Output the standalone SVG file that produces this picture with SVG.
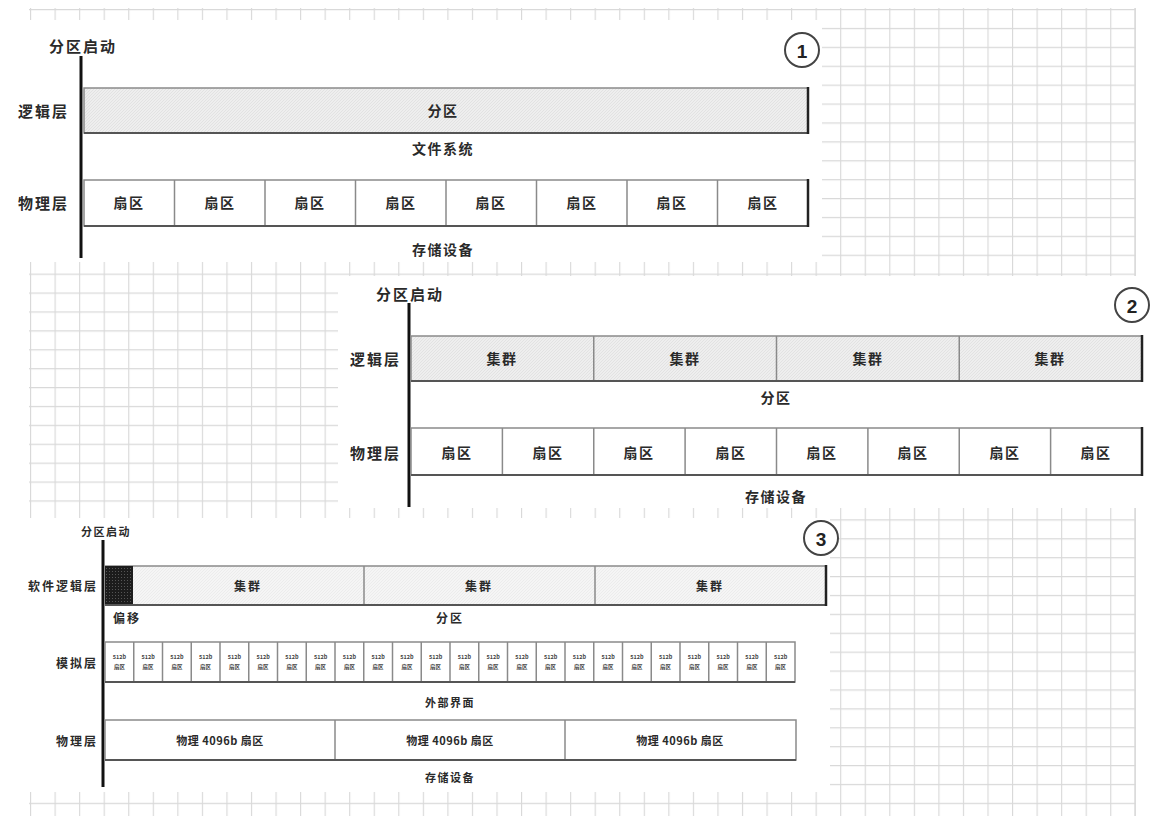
<svg xmlns="http://www.w3.org/2000/svg" width="1154" height="819" viewBox="0 0 1154 819">
<defs>
<pattern id="grid" patternUnits="userSpaceOnUse" x="30" y="9" width="24.55" height="18.9">
<path d="M0 0.5H24.55M0.5 0V18.9" stroke="#d9d9d9" stroke-width="1.3" fill="none"/>
</pattern>
<pattern id="hatch" patternUnits="userSpaceOnUse" width="3" height="3">
<rect width="3" height="3" fill="#eeeeee"/>
<path d="M0 3L3 0" stroke="#e2e2e2" stroke-width="1"/>
</pattern>
<pattern id="hatchLight" patternUnits="userSpaceOnUse" width="3" height="3">
<rect width="3" height="3" fill="#f5f5f5"/>
<path d="M0 3L3 0" stroke="#ececec" stroke-width="1"/>
</pattern>
<pattern id="dark" patternUnits="userSpaceOnUse" width="3" height="3">
<rect width="3" height="3" fill="#1c1c1c"/>
<rect x="1" y="1" width="1" height="1" fill="#555"/>
</pattern>
</defs>
<style>
text{font-family:"Noto Sans CJK SC","Noto Sans",sans-serif;font-weight:700;fill:#2a2a2a;dominant-baseline:central;text-anchor:middle}
.l{font-size:15px;letter-spacing:2px}
.m{font-size:14px;letter-spacing:1.5px}
.s{font-size:12px;letter-spacing:2px}
.xs{font-size:11px;letter-spacing:1.5px}
.ph{font-size:11px;letter-spacing:0.5px}
.t{font-size:5.5px;font-weight:700;fill:#444}
.e{text-anchor:end}
.num{font-family:"Liberation Sans",Arial,sans-serif;font-size:19px;font-weight:700;fill:#222}
.cell{stroke:#8a8a8a;stroke-width:1.5}
.bot{stroke:#555;stroke-width:2}
.edge{stroke:#222;stroke-width:2.5}
.axis{stroke:#111;stroke-width:3}
.ring{fill:#fff;stroke:#444;stroke-width:2}
</style>
<rect width="1154" height="819" fill="#fff"/>
<g id="background">
<rect x="29" y="8" width="1107" height="808" fill="url(#grid)"/>
<line x1="1135" y1="8" x2="1135" y2="816" stroke="#d9d9d9" stroke-width="1.3"/>
<rect x="0" y="20" width="822" height="242" fill="#fff"/>
<rect x="338" y="276" width="816" height="232" fill="#fff"/>
<rect x="0" y="518" width="830" height="274" fill="#fff"/>
</g>
<g id="axes">
<line class="axis" x1="81" y1="56" x2="81" y2="258"/>
<line class="axis" x1="409" y1="303" x2="409" y2="507"/>
<line class="axis" x1="103" y1="540" x2="103" y2="787"/>
</g>
<g id="panel1">
<text class="l" x="83" y="45">分区启动</text>
<text class="l e" x="69" y="110">逻辑层</text>
<text class="l e" x="69" y="202">物理层</text>
<g id="p1-partition">
<rect class="cell" x="84" y="88" width="724" height="45" fill="url(#hatch)"/>
<line class="bot" x1="84" y1="133" x2="808" y2="133"/>
<line class="edge" x1="808" y1="87" x2="808" y2="134"/>
<text class="m" x="443" y="110">分区</text>
</g>
<text class="m" x="443" y="148">文件系统</text>
<g id="p1-sectors">
<rect class="cell" x="84" y="180" width="724" height="46" fill="#fff"/>
<path class="cell" d="M174.5 180V226M265 180V226M355.5 180V226M446 180V226M536.5 180V226M627 180V226M717.5 180V226"/>
<line class="bot" x1="84" y1="226" x2="808" y2="226"/>
<line class="edge" x1="808" y1="179" x2="808" y2="227"/>
<text class="m" x="129" y="202">扇区</text>
<text class="m" x="220" y="202">扇区</text>
<text class="m" x="310" y="202">扇区</text>
<text class="m" x="401" y="202">扇区</text>
<text class="m" x="491" y="202">扇区</text>
<text class="m" x="582" y="202">扇区</text>
<text class="m" x="672" y="202">扇区</text>
<text class="m" x="763" y="202">扇区</text>
</g>
<text class="m" x="443" y="249">存储设备</text>
<g id="badge1"><circle class="ring" cx="802" cy="50" r="17"/><text class="num" x="802" y="51">1</text></g>
</g>
<g id="panel2">
<text class="l" x="410" y="293">分区启动</text>
<text class="l e" x="401" y="358">逻辑层</text>
<text class="l e" x="401" y="452">物理层</text>
<g id="p2-clusters">
<rect class="cell" x="411" y="336" width="731" height="45" fill="url(#hatch)"/>
<path class="cell" d="M593.75 336V381M776.5 336V381M959.25 336V381"/>
<line class="bot" x1="411" y1="381" x2="1142" y2="381"/>
<line class="edge" x1="1142" y1="335" x2="1142" y2="382"/>
<text class="m" x="502" y="358">集群</text>
<text class="m" x="685" y="358">集群</text>
<text class="m" x="868" y="358">集群</text>
<text class="m" x="1050" y="358">集群</text>
</g>
<text class="m" x="776" y="397">分区</text>
<g id="p2-sectors">
<rect class="cell" x="411" y="428" width="731" height="47" fill="#fff"/>
<path class="cell" d="M502.4 428V475M593.75 428V475M685.1 428V475M776.5 428V475M867.9 428V475M959.25 428V475M1050.6 428V475"/>
<line class="bot" x1="411" y1="475" x2="1142" y2="475"/>
<line class="edge" x1="1142" y1="427" x2="1142" y2="476"/>
<text class="m" x="457" y="452">扇区</text>
<text class="m" x="548" y="452">扇区</text>
<text class="m" x="639" y="452">扇区</text>
<text class="m" x="731" y="452">扇区</text>
<text class="m" x="822" y="452">扇区</text>
<text class="m" x="913" y="452">扇区</text>
<text class="m" x="1005" y="452">扇区</text>
<text class="m" x="1096" y="452">扇区</text>
</g>
<text class="m" x="776" y="496">存储设备</text>
<g id="badge2"><circle class="ring" cx="1132" cy="305" r="17"/><text class="num" x="1132" y="306">2</text></g>
</g>
<g id="panel3">
<text class="xs" x="106" y="531">分区启动</text>
<text class="s e" x="98" y="585">软件逻辑层</text>
<text class="s e" x="98" y="662">模拟层</text>
<text class="s e" x="98" y="740">物理层</text>
<g id="p3-clusters">
<rect class="cell" x="105" y="566" width="721" height="39" fill="url(#hatchLight)"/>
<rect x="105" y="566" width="28" height="39" fill="url(#dark)"/>
<path class="cell" d="M364 566V605M595 566V605"/>
<line class="bot" x1="105" y1="605" x2="826" y2="605"/>
<line class="edge" x1="826" y1="565" x2="826" y2="606"/>
<text class="s" x="248" y="585">集群</text>
<text class="s" x="479" y="585">集群</text>
<text class="s" x="710" y="585">集群</text>
</g>
<text class="s" x="127" y="617">偏移</text>
<text class="s" x="450" y="617">分区</text>
<g id="p3-emulation">
<rect class="cell" x="105" y="642" width="690" height="40" fill="#fff"/>
<path class="cell" d="M133.75 642V682M162.5 642V682M191.25 642V682M220 642V682M248.75 642V682M277.5 642V682M306.25 642V682M335 642V682M363.75 642V682M392.5 642V682M421.25 642V682M450 642V682M478.75 642V682M507.5 642V682M536.25 642V682M565 642V682M593.75 642V682M622.5 642V682M651.25 642V682M680 642V682M708.75 642V682M737.5 642V682M766.25 642V682"/>
<line class="bot" x1="105" y1="682" x2="795" y2="682"/>
<text class="t" x="119.4" y="657">512b</text><text class="t" x="119.4" y="667">扇区</text>
<text class="t" x="148.1" y="657">512b</text><text class="t" x="148.1" y="667">扇区</text>
<text class="t" x="176.9" y="657">512b</text><text class="t" x="176.9" y="667">扇区</text>
<text class="t" x="205.6" y="657">512b</text><text class="t" x="205.6" y="667">扇区</text>
<text class="t" x="234.4" y="657">512b</text><text class="t" x="234.4" y="667">扇区</text>
<text class="t" x="263.1" y="657">512b</text><text class="t" x="263.1" y="667">扇区</text>
<text class="t" x="291.9" y="657">512b</text><text class="t" x="291.9" y="667">扇区</text>
<text class="t" x="320.6" y="657">512b</text><text class="t" x="320.6" y="667">扇区</text>
<text class="t" x="349.4" y="657">512b</text><text class="t" x="349.4" y="667">扇区</text>
<text class="t" x="378.1" y="657">512b</text><text class="t" x="378.1" y="667">扇区</text>
<text class="t" x="406.9" y="657">512b</text><text class="t" x="406.9" y="667">扇区</text>
<text class="t" x="435.6" y="657">512b</text><text class="t" x="435.6" y="667">扇区</text>
<text class="t" x="464.4" y="657">512b</text><text class="t" x="464.4" y="667">扇区</text>
<text class="t" x="493.1" y="657">512b</text><text class="t" x="493.1" y="667">扇区</text>
<text class="t" x="521.9" y="657">512b</text><text class="t" x="521.9" y="667">扇区</text>
<text class="t" x="550.6" y="657">512b</text><text class="t" x="550.6" y="667">扇区</text>
<text class="t" x="579.4" y="657">512b</text><text class="t" x="579.4" y="667">扇区</text>
<text class="t" x="608.1" y="657">512b</text><text class="t" x="608.1" y="667">扇区</text>
<text class="t" x="636.9" y="657">512b</text><text class="t" x="636.9" y="667">扇区</text>
<text class="t" x="665.6" y="657">512b</text><text class="t" x="665.6" y="667">扇区</text>
<text class="t" x="694.4" y="657">512b</text><text class="t" x="694.4" y="667">扇区</text>
<text class="t" x="723.1" y="657">512b</text><text class="t" x="723.1" y="667">扇区</text>
<text class="t" x="751.9" y="657">512b</text><text class="t" x="751.9" y="667">扇区</text>
<text class="t" x="780.6" y="657">512b</text><text class="t" x="780.6" y="667">扇区</text>
</g>
<text class="xs" x="450" y="702">外部界面</text>
<g id="p3-physical">
<rect class="cell" x="105" y="720" width="691" height="40" fill="#fff"/>
<path class="cell" d="M335 720V760M565 720V760"/>
<line class="bot" x1="105" y1="760" x2="796" y2="760"/>
<text class="ph" x="220" y="740">物理 4096b 扇区</text>
<text class="ph" x="450" y="740">物理 4096b 扇区</text>
<text class="ph" x="680" y="740">物理 4096b 扇区</text>
</g>
<text class="xs" x="450" y="777">存储设备</text>
<g id="badge3"><circle class="ring" cx="821" cy="538" r="17"/><text class="num" x="821" y="539">3</text></g>
</g>
</svg>
